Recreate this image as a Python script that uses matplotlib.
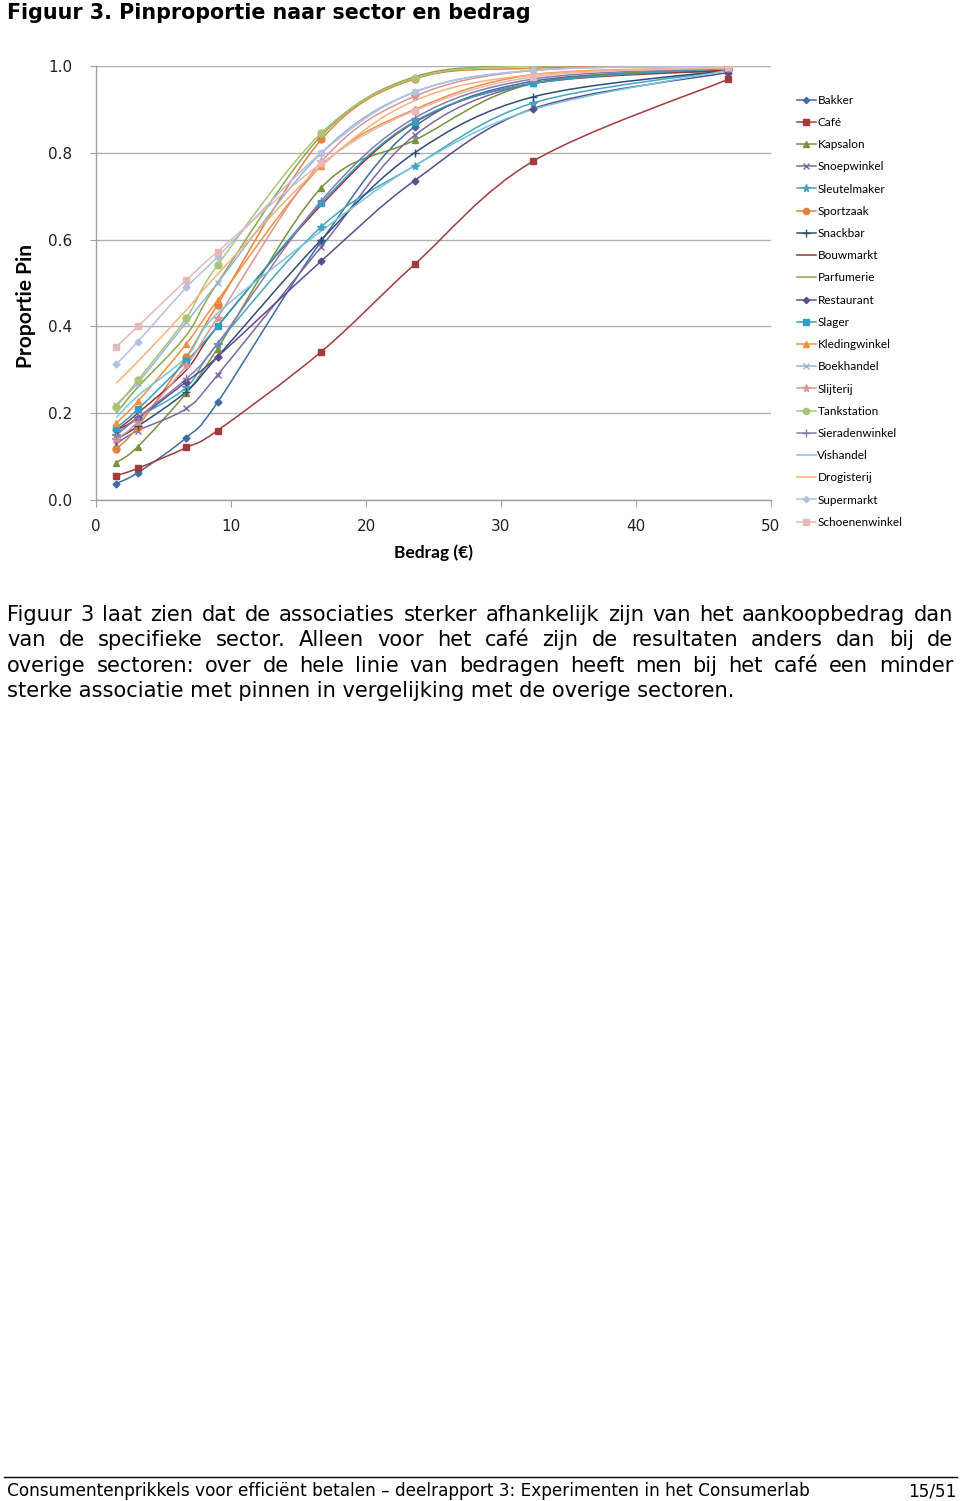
import matplotlib
matplotlib.use("Agg")
import matplotlib.pyplot as plt
from matplotlib.path import Path
from matplotlib.patches import PathPatch
from matplotlib.lines import Line2D
import numpy as np

# bedragen (x) en proportie pin per sector
bedrag = [1.5, 3.1, 6.7, 9.0, 16.7, 23.6, 32.4, 46.8]

sectoren = ["Bakker", "Café", "Kapsalon", "Snoepwinkel", "Sleutelmaker", "Sportzaak",
            "Snackbar", "Bouwmarkt", "Parfumerie", "Restaurant", "Slager", "Kledingwinkel",
            "Boekhandel", "Slijterij", "Tankstation", "Sieradenwinkel", "Vishandel",
            "Drogisterij", "Supermarkt", "Schoenenwinkel"]

bakker = [0.038, 0.063, 0.144, 0.225, 0.597, 0.86, 0.965, 0.99]
cafe = [0.056, 0.073, 0.121, 0.160, 0.342, 0.543, 0.781, 0.969]
kapsalon = [0.086, 0.123, 0.247, 0.349, 0.720, 0.829, 0.96, 0.995]
snoepwinkel = [0.13, 0.16, 0.211, 0.288, 0.584, 0.84, 0.96, 0.99]
sleutelmaker = [0.15, 0.19, 0.26, 0.36, 0.630, 0.77, 0.915, 0.99]
sportzaak = [0.117, 0.169, 0.33, 0.45, 0.831, 0.97, 0.995, 1.0]
snackbar = [0.14, 0.17, 0.25, 0.33, 0.60, 0.80, 0.929, 0.99]
bouwmarkt = [0.16, 0.20, 0.30, 0.40, 0.68, 0.87, 0.96, 0.99]
parfumerie = [0.20, 0.26, 0.38, 0.50, 0.84, 0.975, 1.0, 1.0]
restaurant = [0.161, 0.188, 0.273, 0.330, 0.551, 0.736, 0.902, 0.985]
slager = [0.166, 0.209, 0.320, 0.400, 0.685, 0.872, 0.96, 0.995]
kledingwinkel = [0.177, 0.227, 0.36, 0.46, 0.77, 0.90, 0.98, 0.995]
boekhandel = [0.22, 0.27, 0.41, 0.50, 0.80, 0.94, 0.99, 1.0]
slijterij = [0.14, 0.18, 0.31, 0.42, 0.78, 0.93, 0.99, 1.0]
tankstation = [0.215, 0.276, 0.42, 0.541, 0.846, 0.972, 1.0, 1.0]
sieradenwinkel = [0.15, 0.19, 0.28, 0.36, 0.69, 0.88, 0.97, 0.995]
vishandel = [0.19, 0.24, 0.33, 0.43, 0.62, 0.77, 0.90, 0.99]
drogisterij = [0.269, 0.319, 0.438, 0.52, 0.77, 0.92, 0.98, 0.995]
supermarkt = [0.313, 0.365, 0.490, 0.56, 0.80, 0.94, 0.99, 1.0]
schoenenwinkel = [0.353, 0.40, 0.507, 0.572, 0.776, 0.897, 0.975, 0.998]

waarden = [bakker, cafe, kapsalon, snoepwinkel, sleutelmaker, sportzaak, snackbar,
           bouwmarkt, parfumerie, restaurant, slager, kledingwinkel, boekhandel,
           slijterij, tankstation, sieradenwinkel, vishandel, drogisterij,
           supermarkt, schoenenwinkel]

kleuren = ["#3F6CA6", "#A33B3A", "#76923C", "#7C67A0", "#46A6C0", "#E0833E",
           "#2E4E78", "#943634", "#8AA64A", "#5F4B8B", "#31A0C0", "#F0913F",
           "#95B3D7", "#D99694", "#A9C574", "#8A7BAE", "#7CC5D8", "#F9B07A",
           "#B3C0E0", "#E6B9B8"]
markers = ["D", "s", "^", "x", "*", "o", "+", None, None, "D", "s", "^",
           "x", "*", "o", "+", None, None, "D", "s"]
msizes = [3.5, 5, 5, 5, 6, 5, 6, 0, 0, 3.5, 5, 5, 5, 6, 5, 6, 0, 0, 3.5, 5]

W, H = 960, 1501
fig = plt.figure(figsize=(W / 100, H / 100), dpi=100)

# plot area in pixels
x0, x1, ytop, ybot = 96, 771, 66, 500
ax = fig.add_axes([x0 / W, 1 - ybot / H, (x1 - x0) / W, (ybot - ytop) / H])


def smooth(x, y):
    # excel-style smoothed line: cubic bezier through the points
    pts = np.column_stack([x, y])
    n = len(pts)
    verts = [pts[0]]
    codes = [Path.MOVETO]
    for i in range(n - 1):
        p0 = pts[i - 1] if i > 0 else pts[i]
        p1 = pts[i]
        p2 = pts[i + 1]
        p3 = pts[i + 2] if i + 2 < n else pts[i + 1]
        c1 = p1 + (p2 - p0) / 6
        c2 = p2 - (p3 - p1) / 6
        verts += [c1, c2, p2]
        codes += [Path.CURVE4] * 3
    return Path(verts, codes)


handles = []
for naam, vals, kl, mk, ms in zip(sectoren, waarden, kleuren, markers, msizes):
    ax.add_patch(PathPatch(smooth(bedrag, vals), facecolor="none", edgecolor=kl,
                           lw=1.1, zorder=2))
    if mk:
        ax.plot(bedrag, vals, linestyle="none", marker=mk, color=kl, ms=ms,
                mew=1.0, zorder=3)
    handles.append(Line2D([], [], color=kl, lw=1.1, marker=mk, ms=ms * 0.9, mew=1.0))

ax.set_xlim(0, 50)
ax.set_ylim(0, 1.0)
ax.set_xticks(range(0, 51, 10))
ax.set_yticks(np.arange(0, 1.01, 0.2))
ax.set_yticklabels(["%.1f" % v for v in np.arange(0, 1.01, 0.2)])
ax.yaxis.grid(True, color="#B0B0B0", lw=1.0)
ax.set_axisbelow(True)
for s in ["top", "right"]:
    ax.spines[s].set_visible(False)
for s in ["left", "bottom"]:
    ax.spines[s].set_color("#A0A0A0")
    ax.spines[s].set_linewidth(1.0)
ax.tick_params(axis="x", length=5, color="#A0A0A0", labelsize=11, pad=9, labelcolor="#222222")
ax.tick_params(axis="y", length=4, color="#A0A0A0", labelsize=11, pad=13, labelcolor="#222222")
ax.set_xlabel("Bedrag (€)", fontsize=12.5, fontweight="bold", family="Lato", labelpad=7)
ax.set_ylabel("Proportie Pin", fontsize=15, fontweight="bold", family="Lato")
ax.yaxis.set_label_coords((36 - x0) / (x1 - x0), (ybot - 306) / (ybot - ytop))

fig.legend(handles, sectoren, loc="upper left", bbox_to_anchor=(792 / W, 1 - 90 / H),
           frameon=False, prop={"family": "Lato", "size": 8.5}, handlelength=1.6,
           handletextpad=0.15, labelspacing=0.95, borderaxespad=0)

# title, paragraph and footer
renderer = fig.canvas.get_renderer()


def fit_size(txt, width, **kw):
    t = fig.text(0, 0, txt, fontsize=10, **kw)
    w = t.get_window_extent(renderer).width
    t.remove()
    return 10 * width / w


ts = fit_size("Figuur 3. Pinproportie naar sector en bedrag", 525, fontweight="bold")
fig.text(7 / W, 1 - 19 / H, "Figuur 3. Pinproportie naar sector en bedrag",
         fontsize=ts, fontweight="bold", va="baseline")

regels = ["Figuur 3 laat zien dat de associaties sterker afhankelijk zijn van het aankoopbedrag dan",
          "van de specifieke sector. Alleen voor het café zijn de resultaten anders dan bij de",
          "overige sectoren: over de hele linie van bedragen heeft men bij het café een minder",
          "sterke associatie met pinnen in vergelijking met de overige sectoren."]
ps = fit_size(regels[3], 730)
basis = [621, 646, 672, 697]
for i, regel in enumerate(regels):
    yb = 1 - basis[i] / H
    if i == len(regels) - 1:
        fig.text(7 / W, yb, regel, fontsize=ps, va="baseline")
        continue
    woorden = regel.split(" ")
    breedtes = []
    for wd in woorden:
        t = fig.text(0, 0, wd, fontsize=ps)
        breedtes.append(t.get_window_extent(renderer).width)
        t.remove()
    gat = (946 - sum(breedtes)) / (len(woorden) - 1)
    xp = 7
    for wd, b in zip(woorden, breedtes):
        fig.text(xp / W, yb, wd, fontsize=ps, va="baseline")
        xp += b + gat

fig.add_artist(Line2D([4 / W, 957 / W], [1 - 1477 / H, 1 - 1477 / H], color="black", lw=1.0))
vs = fit_size("Consumentenprikkels voor efficiënt betalen – deelrapport 3: Experimenten in het Consumerlab", 803)
fig.text(7 / W, 1 - 1496 / H,
         "Consumentenprikkels voor efficiënt betalen – deelrapport 3: Experimenten in het Consumerlab",
         fontsize=vs, va="baseline")
fig.text(957 / W, 1 - 1496 / H, "15/51", fontsize=vs, va="baseline", ha="right")

fig.savefig("out.png", dpi=100)
